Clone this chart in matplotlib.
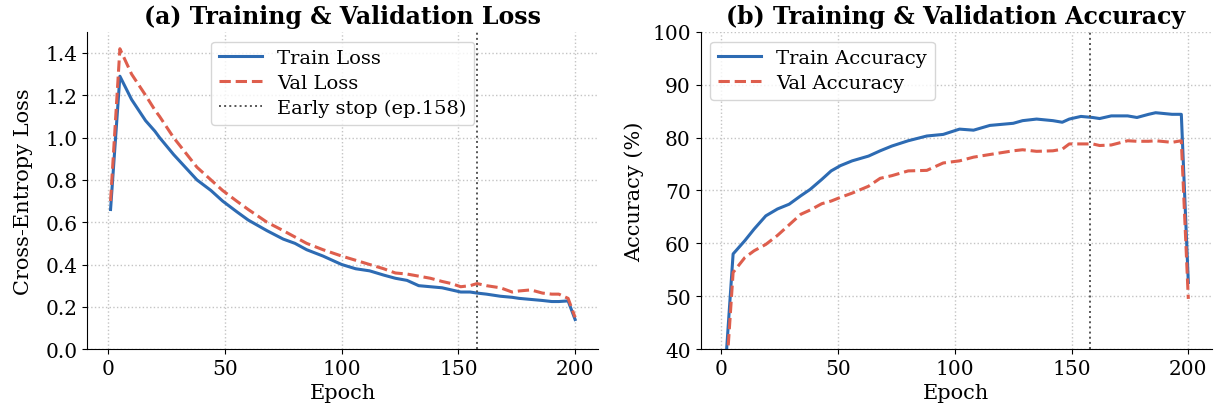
import matplotlib
matplotlib.use("Agg")
import matplotlib.pyplot as plt

plt.rcParams['font.family'] = ['DejaVu Serif']

# Loss curves (epoch, value)
loss_epochs = [1, 5, 10, 16, 20, 22, 28, 33, 38, 44, 49, 55, 60, 68, 75, 80, 85, 92,
               100, 106, 112, 118, 123, 128, 133, 138, 143, 147, 151, 155, 158, 162,
               165, 168, 173, 176, 181, 186, 190, 193, 197, 200]
train_loss = [0.66, 1.29, 1.18, 1.08, 1.03, 1.00, 0.92, 0.86, 0.80, 0.75, 0.70, 0.65,
              0.61, 0.56, 0.52, 0.50, 0.47, 0.44, 0.40, 0.38, 0.37, 0.35, 0.335, 0.325,
              0.30, 0.295, 0.29, 0.28, 0.27, 0.27, 0.265, 0.26, 0.255, 0.25, 0.245,
              0.24, 0.235, 0.23, 0.225, 0.225, 0.228, 0.14]
val_loss = [0.70, 1.42, 1.30, 1.20, 1.13, 1.10, 1.00, 0.93, 0.86, 0.80, 0.75, 0.70,
            0.66, 0.60, 0.56, 0.53, 0.50, 0.47, 0.44, 0.42, 0.40, 0.38, 0.36, 0.355,
            0.345, 0.335, 0.32, 0.31, 0.295, 0.30, 0.31, 0.30, 0.295, 0.29, 0.27,
            0.275, 0.28, 0.265, 0.26, 0.26, 0.24, 0.15]

# Accuracy curves (epoch, %)
acc_epochs = [1, 5, 10, 14, 19, 24, 29, 34, 38, 43, 47, 51, 56, 63, 68, 73, 80, 88,
              95, 102, 108, 115, 125, 129, 135, 142, 146, 149, 154, 159, 162, 167,
              174, 178, 183, 186, 193, 197, 200]
train_acc = [32.0, 58.0, 60.5, 62.7, 65.2, 66.5, 67.4, 69.0, 70.2, 72.1, 73.7, 74.7,
             75.6, 76.5, 77.5, 78.4, 79.4, 80.3, 80.6, 81.6, 81.4, 82.3, 82.7, 83.2,
             83.5, 83.2, 82.9, 83.5, 84.0, 83.8, 83.6, 84.1, 84.1, 83.8, 84.4, 84.7,
             84.4, 84.4, 52.6]
val_acc = [28.0, 54.5, 57.3, 58.6, 59.8, 61.5, 63.5, 65.5, 66.3, 67.5, 68.0, 68.7,
           69.5, 70.8, 72.3, 72.8, 73.7, 73.8, 75.2, 75.6, 76.3, 76.8, 77.5, 77.7,
           77.4, 77.5, 77.8, 78.8, 78.8, 78.8, 78.5, 78.6, 79.4, 79.3, 79.3, 79.4,
           79.1, 79.4, 49.5]

early_stop = 158
blue = '#2d6bb3'
red = '#de5e4d'

fig, (ax1, ax2) = plt.subplots(1, 2, figsize=(12.3, 4.1), dpi=100)
fig.subplots_adjust(left=0.071, right=0.985, bottom=0.146, top=0.92, wspace=0.2)

leg_kw = dict(fontsize=14, labelspacing=0.35, borderpad=0.4, handlelength=2.2)

# (a) Loss
ax1.plot(loss_epochs, train_loss, color=blue, lw=2.2, label='Train Loss')
ax1.plot(loss_epochs, val_loss, color=red, lw=2.2, ls='--', label='Val Loss')
ax1.axvline(early_stop, color='#555555', ls=':', lw=1.4,
            label='Early stop (ep.%d)' % early_stop)
ax1.set_ylim(0, 1.5)
ax1.set_yticks([0.0, 0.2, 0.4, 0.6, 0.8, 1.0, 1.2, 1.4])
ax1.set_xlabel('Epoch', fontsize=15)
ax1.set_ylabel('Cross-Entropy Loss', fontsize=15, labelpad=9)
ax1.set_title('(a) Training & Validation Loss', fontsize=17, fontweight='bold')
ax1.legend(loc='upper center', **leg_kw)

# (b) Accuracy
ax2.plot(acc_epochs, train_acc, color=blue, lw=2.2, label='Train Accuracy')
ax2.plot(acc_epochs, val_acc, color=red, lw=2.2, ls='--', label='Val Accuracy')
ax2.axvline(early_stop, color='#555555', ls=':', lw=1.4)
ax2.set_ylim(40, 100)
ax2.set_xlabel('Epoch', fontsize=15)
ax2.set_ylabel('Accuracy (%)', fontsize=15, labelpad=6)
ax2.set_title('(b) Training & Validation Accuracy', fontsize=17, fontweight='bold')
ax2.legend(loc='upper left', **leg_kw)

for ax in (ax1, ax2):
    ax.set_xticks([0, 50, 100, 150, 200])
    ax.tick_params(labelsize=14.5)
    ax.grid(True, ls=':', color='#c4c4c4', lw=1)
    ax.spines['top'].set_visible(False)
    ax.spines['right'].set_visible(False)

plt.savefig('out.png')
